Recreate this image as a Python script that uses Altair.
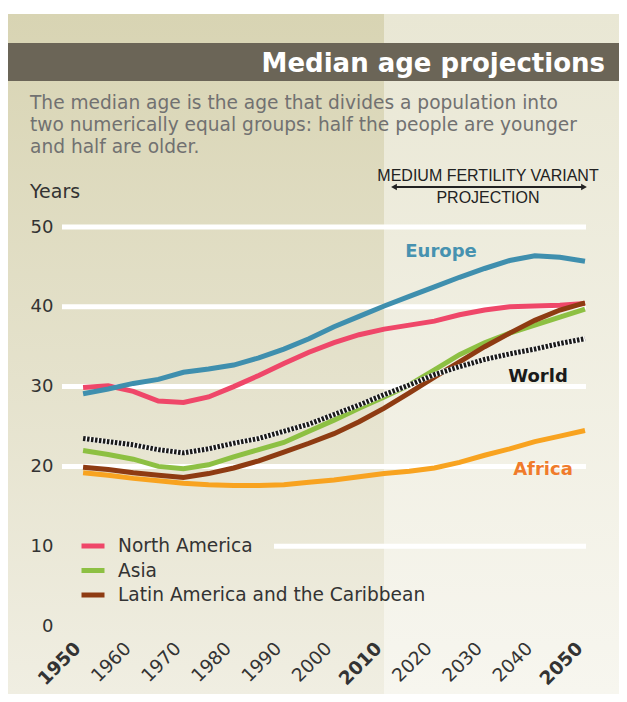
import altair as alt
import pandas as pd

# ---------------- data ----------------
years = list(range(1950, 2051, 5))
europe = [29.1, 29.7, 30.4, 30.9, 31.8, 32.2, 32.7, 33.6, 34.7, 36.0, 37.5, 38.8,
          40.1, 41.3, 42.5, 43.7, 44.8, 45.8, 46.4, 46.2, 45.7]
north_america = [29.9, 30.1, 29.4, 28.2, 28.0, 28.7, 30.0, 31.4, 32.9, 34.3, 35.5, 36.5,
                 37.2, 37.7, 38.2, 39.0, 39.6, 40.0, 40.1, 40.2, 40.4]
world = [23.5, 23.1, 22.7, 22.1, 21.7, 22.2, 22.9, 23.5, 24.4, 25.3, 26.5, 27.7,
         29.0, 30.2, 31.5, 32.5, 33.4, 34.1, 34.7, 35.4, 36.0]
asia = [22.0, 21.5, 20.9, 20.0, 19.7, 20.2, 21.2, 22.1, 23.0, 24.4, 25.8, 27.3,
        28.7, 30.2, 32.1, 34.0, 35.5, 36.7, 37.7, 38.7, 39.7]
latin_america = [19.9, 19.6, 19.2, 18.9, 18.6, 19.1, 19.8, 20.7, 21.8, 22.9, 24.1, 25.6,
                 27.3, 29.2, 31.2, 33.1, 35.0, 36.7, 38.3, 39.6, 40.5]
africa = [19.2, 18.9, 18.5, 18.2, 17.9, 17.7, 17.6, 17.6, 17.7, 18.0, 18.3, 18.7,
          19.1, 19.4, 19.8, 20.5, 21.4, 22.2, 23.1, 23.8, 24.5]

series_names = ["North America", "Asia", "Latin America and the Caribbean",
                "Europe", "World", "Africa"]
series_values = [north_america, asia, latin_america, europe, world, africa]
series_colors = ["#ef4769", "#8dc043", "#8e3b12", "#3f8fae", "#1a1a1a", "#f8a320"]
legend_names = ["North America", "Asia", "Latin America and the Caribbean"]

x_ticks = list(range(1950, 2051, 10))
bold_ticks = [1950, 2010, 2050]
y_ticks = [0, 10, 20, 30, 40, 50]
grid_full = [20, 30, 40, 50]
grid_short = [10]

title_text = "Median age projections"
subtitle_lines = ["The median age is the age that divides a population into",
                  "two numerically equal groups: half the people are younger",
                  "and half are older."]

rows = []
for name, vals in zip(series_names, series_values):
    for yr, v in zip(years, vals):
        rows.append({"series": name, "year": yr, "age": v})
df = pd.DataFrame(rows)

one = pd.DataFrame({"k": [0]})
W, H = 524, 399
FONT = "DejaVu Sans"

xs = alt.Scale(domain=[1945.8, 2050.2], nice=False, zero=False)
ys = alt.Scale(domain=[0, 50], nice=False, zero=True)

bold_test = " || ".join(f"datum.value == {b}" for b in bold_ticks)

x_axis = alt.Axis(values=x_ticks, format="d", labelAngle=-45, labelAlign="right",
                  labelBaseline="middle", labelPadding=19, labelOffset=-6,
                  labelFontSize=18.5, labelFont=FONT, labelColor="#333333",
                  labelFontWeight={"condition": {"test": bold_test, "value": "bold"},
                                   "value": "normal"},
                  domain=False, ticks=False, grid=False, labelOverlap=False, zindex=2)
y_axis = alt.Axis(values=y_ticks, labelPadding=9, labelFontSize=18, labelFont=FONT,
                  labelColor="#333333", domain=False, ticks=False, grid=False, zindex=2)


def grad(c0, c1):
    return alt.LinearGradient(
        gradient="linear",
        stops=[alt.GradientStop(offset=0, color=c0), alt.GradientStop(offset=1, color=c1)],
        x1=0, x2=0, y1=0, y2=1,
    )


def rect(x, x2, y, y2, color):
    return alt.Chart(one).mark_rect(color=color).encode(
        x=alt.value(x), x2=alt.value(x2), y=alt.value(y), y2=alt.value(y2))


def txt(x, y, text, **kw):
    return alt.Chart(one).mark_text(text=text, font=FONT, **kw).encode(
        x=alt.value(x), y=alt.value(y))


bg_left = rect(-54, 322, -213, 467, grad("#d8d4b3", "#f0eee2"))
bg_right = rect(322, 557, -213, 467, grad("#e9e7d4", "#f7f6ef"))
title_bar = rect(-54, 557, -184, -146, "#6b6557")

title = txt(543, -155, title_text, align="right", baseline="alphabetic",
            fontSize=26, fontWeight="bold", color="white")
subtitle = txt(-32, -118, subtitle_lines, align="left", baseline="alphabetic",
               fontSize=18.6, lineHeight=22, color="#717171")
years_lbl = txt(-32, -29, "Years", align="left", baseline="alphabetic",
                fontSize=19, color="#333333")

proj1 = alt.Chart(one).mark_text(text="MEDIUM FERTILITY VARIANT", font="Liberation Sans",
                                 fontSize=16, align="center", baseline="alphabetic",
                                 color="#222222").encode(x=alt.value(426), y=alt.value(-46))
proj2 = alt.Chart(one).mark_text(text="PROJECTION", font="Liberation Sans",
                                 fontSize=16, align="center", baseline="alphabetic",
                                 color="#222222").encode(x=alt.value(426), y=alt.value(-24))
arrow_line = alt.Chart(one).mark_rule(color="#222222", strokeWidth=2).encode(
    x=alt.value(333), x2=alt.value(521), y=alt.value(-40))
arrow_l = alt.Chart(one).mark_point(shape="triangle-left", filled=True, size=45,
                                    color="#222222", opacity=1).encode(
    x=alt.value(332), y=alt.value(-40))
arrow_r = alt.Chart(one).mark_point(shape="triangle-right", filled=True, size=45,
                                    color="#222222", opacity=1).encode(
    x=alt.value(522), y=alt.value(-40))

grid1 = alt.Chart(pd.DataFrame({"age": grid_full})).mark_rule(
    color="white", strokeWidth=5).encode(
    y=alt.Y("age:Q", scale=ys, title=None, axis=y_axis), x=alt.value(0), x2=alt.value(W))
grid2 = alt.Chart(pd.DataFrame({"age": grid_short})).mark_rule(
    color="white", strokeWidth=5).encode(
    y=alt.Y("age:Q", scale=ys, title=None, axis=y_axis), x=alt.value(212), x2=alt.value(W))

x_enc = alt.X("year:Q", scale=xs, title=None, axis=x_axis)
y_enc = alt.Y("age:Q", scale=ys, title=None, axis=y_axis)
color_enc = alt.Color("series:N",
                      scale=alt.Scale(domain=series_names, range=series_colors),
                      legend=alt.Legend(values=legend_names, title=None, orient="none",
                                        legendX=17, legendY=305, symbolType="stroke",
                                        symbolSize=529, symbolStrokeWidth=5,
                                        labelFontSize=18.6, labelFont=FONT,
                                        labelColor="#333333", labelOffset=11,
                                        labelLimit=400, rowPadding=0.5, zindex=2))


def series_line(name):
    return alt.Chart(df).transform_filter(alt.datum.series == name).mark_line(
        strokeWidth=5).encode(x=x_enc, y=y_enc, color=color_enc)


l_africa = series_line("Africa")
l_asia = series_line("Asia")
l_na = series_line("North America")
l_latin = series_line("Latin America and the Caribbean")
l_europe = series_line("Europe")
world_df = df[df.series == "World"]
l_world_bg = alt.Chart(world_df).mark_line(strokeWidth=5, color="white").encode(
    x=x_enc, y=y_enc)
l_world = alt.Chart(world_df).mark_line(strokeWidth=5, color="#1a1a1a",
                                        strokeDash=[2.5, 1.5]).encode(
    x=x_enc, y=y_enc)

lab_europe = txt(379, 25, "Europe", align="center", baseline="middle", fontSize=18,
                 fontWeight="bold", color="#4792b0")
lab_world = txt(476, 150, "World", align="center", baseline="middle", fontSize=18,
                fontWeight="bold", color="#1a1a1a")
lab_africa = txt(481, 243, "Africa", align="center", baseline="middle", fontSize=18,
                 fontWeight="bold", color="#f07b2b")

chart = alt.layer(
    bg_left, bg_right, title_bar, title, subtitle, years_lbl,
    proj1, proj2, arrow_line, arrow_l, arrow_r,
    grid1, grid2,
    l_africa, l_asia, l_na, l_latin, l_world_bg, l_world, l_europe,
    lab_europe, lab_world, lab_africa,
).properties(
    width=W, height=H,
    padding={"left": 54, "top": 219, "right": 33, "bottom": 68},
    autosize=alt.AutoSizeParams(type="none"),
    background="white",
).configure_view(strokeWidth=0)

chart.save("out.html", embed_options={"renderer": "svg", "actions": False})
